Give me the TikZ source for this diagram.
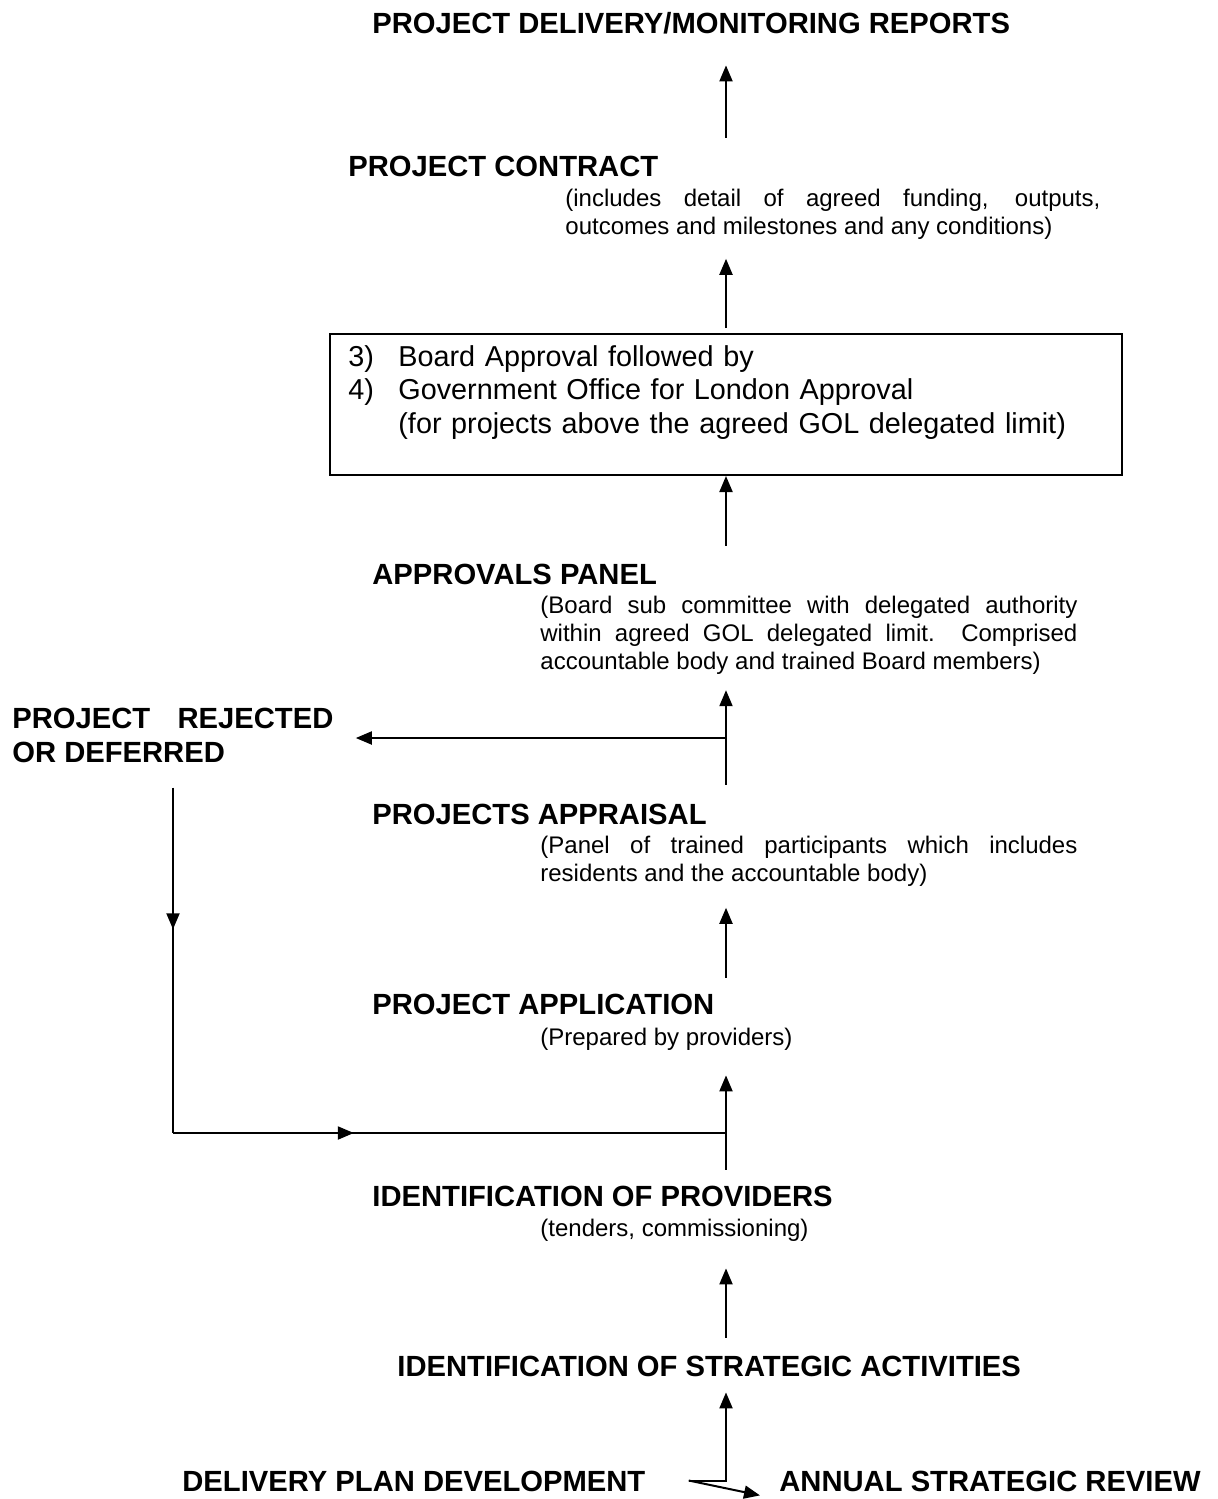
\documentclass[tikz,border=0pt]{standalone}
\usepackage{fontspec}
\setmainfont{Liberation Sans}
\usetikzlibrary{arrows.meta,decorations.markings}
\tikzset{midarr/.style={line width=1pt,postaction={decorate},decoration={markings,mark=at position #1 with {\arrow{Triangle[length=8pt,width=6.5pt]}}}}}

\begin{document}
\begin{tikzpicture}[x=0.5pt,y=-0.5pt]
\tikzstyle{head}=[inner sep=0pt,anchor=base west,text height=10.5pt,text depth=0pt,font=\fontsize{14.6pt}{17pt}\selectfont\bfseries]
\tikzstyle{rej}=[inner sep=0pt,anchor=base west,text width=160.5pt,align=justify,font=\fontsize{14.6pt}{17pt}\selectfont\bfseries]
\tikzstyle{note}=[inner sep=0pt,anchor=base west,text width=268.5pt,align=justify,font=\fontsize{12pt}{14.2pt}\selectfont]
\tikzstyle{boxtext}=[inner sep=0pt,anchor=base west,text width=370pt,align=left,font=\fontsize{14.4pt}{16.75pt}\selectfont]
\tikzstyle{recti}=[rectangle,draw,line width=1pt,minimum width=396pt,minimum height=70.5pt,anchor=north west,inner sep=0pt]
\tikzstyle{arr}=[line width=1pt,-{Triangle[length=8pt,width=6.5pt]}]
\useasboundingbox (0,0) rectangle (1217,1499);
\node [head] (title) at (372,33) {PROJECT DELIVERY/MONITORING REPORTS};
\node [head] (contract) at (348,176) {PROJECT CONTRACT};
\node [note,text width=267.5pt] (contractnote) at (565,206) {(includes detail of agreed funding, outputs,\linebreak outcomes and milestones and any conditions)};
\node [recti] (board) at (329,333) {};
\node [boxtext] (boardtext) at (348,366) {\makebox[25pt][l]{3)}Board Approval followed by\\
\makebox[25pt][l]{4)}Government Office for London Approval\\
\hspace*{25pt}(for projects above the agreed GOL delegated limit)};
\node [head] (approvals) at (372,584) {APPROVALS PANEL};
\node [note] (approvalsnote) at (540,613) {(Board sub committee with delegated authority\linebreak within agreed GOL delegated limit.\ \ Comprised\linebreak accountable body and trained Board members)};
\node [rej] (rejected) at (12,728) {PROJECT REJECTED\linebreak OR DEFERRED};
\node [head] (appraisal) at (372,824) {PROJECTS APPRAISAL};
\node [note] (appraisalnote) at (540,853) {(Panel of trained participants which includes\linebreak residents and the accountable body)};
\node [head] (application) at (372,1014) {PROJECT APPLICATION};
\node [note] (applicationnote) at (540,1045) {(Prepared by providers)};
\node [head] (providers) at (372,1206) {IDENTIFICATION OF PROVIDERS};
\node [note] (providersnote) at (540,1236) {(tenders, commissioning)};
\node [head] (strategic) at (397,1376) {IDENTIFICATION OF STRATEGIC ACTIVITIES};
\node [head] (delivery) at (182,1491) {DELIVERY PLAN DEVELOPMENT};
\node [head] (annual) at (779,1491) {ANNUAL STRATEGIC REVIEW};
\coordinate (spine) at (726,0);
\coordinate (branch) at (726,738);
\coordinate (merge) at (726,1133);
\coordinate (loopcorner) at (173,1133);
\coordinate (fork) at ([xshift=21.5pt]delivery.east);
\draw [arr,shorten <=8.5pt,shorten >=16pt] (contract.north -| spine) -- (title.south -| spine);
\draw [arr,shorten <=2.5pt,shorten >=9.5pt] (board.north -| spine) -- (contractnote.south -| spine);
\draw [arr,shorten <=8.5pt] (approvals.north -| spine) -- (board.south -| spine);
\draw [arr,shorten <=9pt,shorten >=7.5pt] (appraisal.north -| spine) -- (approvalsnote.south -| spine);
\draw [arr,shorten >=11pt] (branch) -- (branch -| rejected.east);
\draw [midarr=0.41] ([yshift=-12.5pt]rejected.south -| loopcorner) -- (loopcorner);
\draw [midarr=0.327] (loopcorner) -- (merge);
\draw [arr,shorten <=7.5pt,shorten >=10.5pt] (application.north -| spine) -- (appraisalnote.south -| spine);
\draw [arr,shorten <=7.5pt,shorten >=12.5pt] (providers.north -| spine) -- (applicationnote.south -| spine);
\draw [arr,shorten <=8.5pt,shorten >=13.5pt] (strategic.north -| spine) -- (providersnote.south -| spine);
\draw [arr,shorten >=8pt] (fork) -- (fork -| spine) -- (strategic.south -| spine);
\draw [arr] (fork) -- ([xshift=-9.5pt,yshift=-2pt]annual.south west);
\end{tikzpicture}
\end{document}
